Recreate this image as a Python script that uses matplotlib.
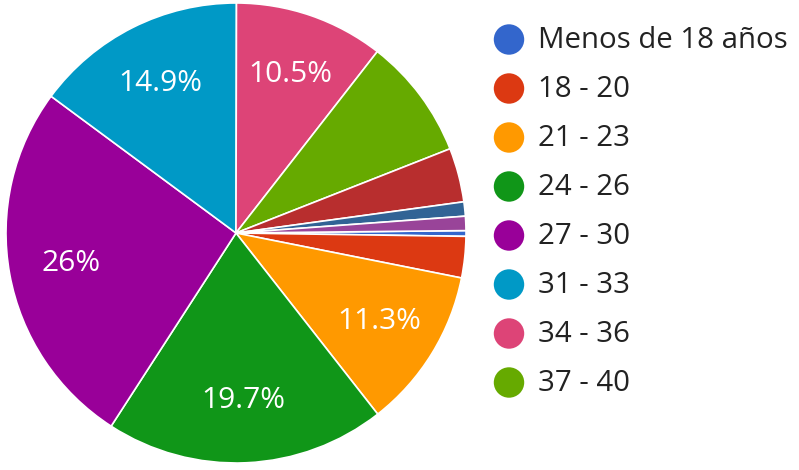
import numpy as np
import matplotlib
matplotlib.use("Agg")
import matplotlib.pyplot as plt

plt.rcParams['font.family'] = ['Open Sans', 'DejaVu Sans']

categories = ["Menos de 18 años", "18 - 20", "21 - 23", "24 - 26", "27 - 30",
              "31 - 33", "34 - 36", "37 - 40", "41 - 45", "46 - 50", "Más de 50"]
values = [0.4, 2.9, 11.3, 19.7, 26.0, 14.9, 10.5, 8.5, 3.8, 1.0, 1.0]
colors = ["#3366cc", "#dc3912", "#ff9900", "#109618", "#990099",
          "#0099c6", "#dd4477", "#66aa00", "#b82e2e", "#316395", "#994499"]
legend_count = 8  # entries visible in the legend

W, H = 799, 470
fig = plt.figure(figsize=(W / 100, H / 100), dpi=100)

ax = fig.add_axes([6 / W, 7 / H, 460 / W, 460 / H])
wedges, _ = ax.pie(values, colors=colors, startangle=0.6, counterclock=False,
                   radius=1.0,
                   wedgeprops=dict(edgecolor="white", linewidth=1.2))
ax.set_xlim(-1, 1)
ax.set_ylim(-1, 1)
ax.set_aspect("equal")
ax.axis("off")

total = sum(values)
for w, v in zip(wedges, values):
    pct = 100 * v / total
    if pct < 10:
        continue
    mid = np.deg2rad((w.theta1 + w.theta2) / 2)
    r = 0.73
    txt = f"{pct:.1f}".rstrip("0").rstrip(".") + "%"
    ax.text(r * np.cos(mid), r * np.sin(mid), txt, color="white",
            fontsize=21.5, ha="center", va="center")

# legend
lax = fig.add_axes([0, 0, 1, 1])
lax.set_xlim(0, W)
lax.set_ylim(H, 0)
lax.axis("off")
y0, dy = 39.5, 49
for i in range(legend_count):
    y = y0 + i * dy
    lax.scatter([509], [y], s=480, color=colors[i], edgecolors="none")
    lax.text(538, y + 1, categories[i], fontsize=21.2, color="#222222",
             ha="left", va="center")

fig.savefig("out.png", dpi=100)
